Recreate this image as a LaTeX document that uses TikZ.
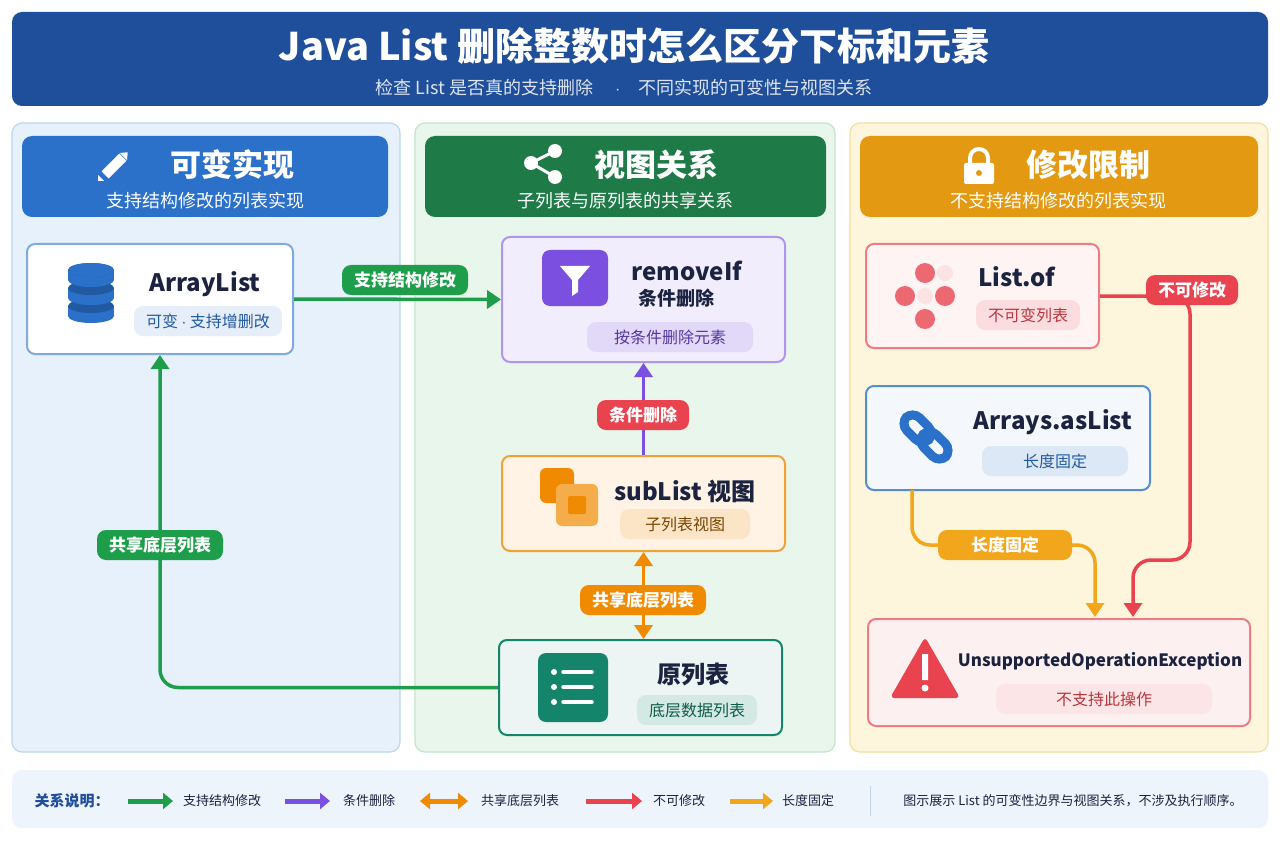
\documentclass[tikz,border=0pt]{standalone}
\usepackage{fontspec}
\setmainfont{Noto Sans CJK SC}
\usetikzlibrary{positioning,calc,arrows.meta,shapes.geometric}
\definecolor{titlebar}{HTML}{1F4E9A}
\definecolor{pbluef}{HTML}{E6F1FC}
\definecolor{pbluel}{HTML}{B9D8F3}
\definecolor{hblue}{HTML}{2B70C9}
\definecolor{pgreenf}{HTML}{E9F6EC}
\definecolor{pgreenl}{HTML}{C3E5CC}
\definecolor{hgreen}{HTML}{1E7A46}
\definecolor{pyelf}{HTML}{FDF5DC}
\definecolor{pyell}{HTML}{F3DFA0}
\definecolor{horange}{HTML}{E39A12}
\definecolor{cgreen}{HTML}{1E9E4A}
\definecolor{cpurple}{HTML}{7B4FE0}
\definecolor{corange}{HTML}{F08A00}
\definecolor{cred}{HTML}{E8434F}
\definecolor{cyel}{HTML}{F2A61B}
\definecolor{cteal}{HTML}{14846A}
\definecolor{ink}{HTML}{1B2340}
\tikzset{
  card/.style={draw=#1, line width=2pt, rounded corners=8pt},
  pill/.style={rounded corners=9pt, inner xsep=12pt, minimum height=30pt, font=\bfseries\fontsize{17}{20}\selectfont},
  tag/.style={pill, minimum height=30pt, font=\fontsize{16}{19}\selectfont},
  conn/.style={line width=3.5pt, rounded corners=18pt, -{Triangle[length=14pt,width=18pt]}},
  legarr/.style={line width=5pt, -{Triangle[length=10pt,width=16pt]}},
  ctitle/.style={font=\bfseries\fontsize{24}{27}\selectfont, text=ink},
}
\begin{document}
\begin{tikzpicture}[x=1pt,y=-1pt]
  \useasboundingbox (0,0) rectangle (1280,853);
  \fill[white] (0,0) rectangle (1280,853);
  % title
  \fill[titlebar, rounded corners=10pt] (12,12) rectangle (1268,106);
  \node[text=white, font=\bfseries\fontsize{38}{44}\selectfont] (title) at (634,46) {Java List 删除整数时怎么区分下标和元素};
  \node[text=white!85!titlebar, font=\fontsize{18}{22}\selectfont] (subtitle) at (624,88) {检查 List 是否真的支持删除 \quad$\cdot$\quad 不同实现的可变性与视图关系};
  % panels
  \filldraw[fill=pbluef, draw=pbluel, line width=1.2pt, rounded corners=10pt] (12,123) rectangle (400,752);
  \filldraw[fill=pgreenf, draw=pgreenl, line width=1.2pt, rounded corners=10pt] (415,123) rectangle (835,752);
  \filldraw[fill=pyelf, draw=pyell, line width=1.2pt, rounded corners=10pt] (850,123) rectangle (1268,752);
  \fill[hblue, rounded corners=10pt] (22,136) rectangle (388,217);
  \fill[hgreen, rounded corners=10pt] (425,136) rectangle (826,217);
  \fill[horange, rounded corners=10pt] (860,136) rectangle (1258,217);
  \node[text=white, font=\bfseries\fontsize{31}{34}\selectfont] (h1) at (232,165) {可变实现};
  \node[text=white, font=\fontsize{18}{22}\selectfont] (s1) at (205,201) {支持结构修改的列表实现};
  \node[text=white, font=\bfseries\fontsize{31}{34}\selectfont] (h2) at (656,165) {视图关系};
  \node[text=white, font=\fontsize{18}{22}\selectfont] (s2) at (625,201) {子列表与原列表的共享关系};
  \node[text=white, font=\bfseries\fontsize{31}{34}\selectfont] (h3) at (1088,165) {修改限制};
  \node[text=white, font=\fontsize{18}{22}\selectfont] (s3) at (1058,201) {不支持结构修改的列表实现};
  % header icons
  \fill[white, rotate around={45:(115,165)}] (101,160) rectangle (126,170) (127,160) -- (133,165) -- (127,170) -- cycle;
  \fill[white] (98,181) -- (104,181) -- (98,175) -- cycle;
  \draw[white, line width=3pt] (531,163) -- (555,151) (531,163) -- (555,177);
  \fill[white] (531,163) circle (7) (555,151) circle (7) (555,177) circle (7);
  \fill[white, rounded corners=2pt] (964,163) rectangle (994,184);
  \draw[white, line width=4pt] (970,164) -- (970,158) arc (180:360:9) -- (988,164);
  \fill[horange] (979,173) circle (3);
  % cards
  \node[card=hblue!60, fill=white, minimum width=266pt, minimum height=110pt] (arr) at (160,299) {};
  \node[card=cpurple!60, fill=cpurple!10, minimum width=283pt, minimum height=125pt] (rmv) at (643.5,299.5) {};
  \node[card=corange!80, fill=corange!10, minimum width=283pt, minimum height=95pt] (sub) at (643.5,503.5) {};
  \node[card=cteal, fill=cteal!8, minimum width=283pt, minimum height=95pt] (orig) at (640.5,687.5) {};
  \node[card=cred!70, fill=cred!6, minimum width=233pt, minimum height=104pt] (lof) at (982.5,296) {};
  \node[card=hblue!80, fill=hblue!5, minimum width=284pt, minimum height=104pt] (asl) at (1008,438) {};
  \node[card=cred!70, fill=cred!8, minimum width=382pt, minimum height=107pt] (uoe) at (1059,672.5) {};
  % card texts
  \node[ctitle] (arrt) at (205,284) {ArrayList};
  \node[tag, fill=hblue!12, text=hblue!80!black] (arrg) at (208,321) {可变 $\cdot$ 支持增删改};
  \node[ctitle] (rmvt) at (687,271) {removeIf};
  \node[font=\bfseries\fontsize{19}{22}\selectfont, text=ink] (rmvs) at (676,298) {条件删除};
  \node[tag, fill=cpurple!22, text=cpurple!70!black, minimum width=166pt] (rmvg) at (670,337) {按条件删除元素};
  \node[ctitle] (subt) at (685,491) {subList 视图};
  \node[tag, fill=corange!22, text=corange!50!black, minimum width=130pt] (subg) at (685,524) {子列表视图};
  \node[ctitle] (origt) at (693,674) {原列表};
  \node[tag, fill=cteal!18, text=cteal!70!black] (origg) at (697,710) {底层数据列表};
  \node[ctitle] (loft) at (1017,277) {List.of};
  \node[tag, fill=cred!18, text=cred!80!black] (lofg) at (1028,315) {不可变列表};
  \node[ctitle] (aslt) at (1053,422) {Arrays.asList};
  \node[tag, fill=hblue!16, text=hblue!80!black, minimum width=146pt] (aslg) at (1055,461) {长度固定};
  \node[font=\bfseries\fontsize{17}{20}\selectfont, text=ink] (uoet) at (1100,661) {UnsupportedOperationException};
  \node[tag, fill=cred!14, text=cred!80!black, minimum width=216pt] (uoeg) at (1104,699) {不支持此操作};
  % card icons
  \foreach \y in {316,298,280} {
    \fill[hblue] (68,\y) rectangle (114,\y-10);
    \fill[hblue] (91,\y) ellipse (23 and 7);
    \fill[hblue!80!black] (91,\y-10) ellipse (23 and 7);
  }
  \fill[hblue] (91,270) ellipse (23 and 7);
  \fill[cpurple, rounded corners=8pt] (542,250) rectangle (608,306);
  \fill[white] (560,266) -- (590,266) -- (578,280) -- (578,292) -- (572,296) -- (572,280) -- cycle;
  \fill[corange, rounded corners=6pt] (540,468) rectangle (574,503);
  \fill[corange!70!white, rounded corners=6pt] (556,484) rectangle (598,526);
  \fill[corange, rounded corners=2pt] (568,496) rectangle (586,514);
  \fill[cteal, rounded corners=8pt] (538,653) rectangle (608,722);
  \foreach \y in {672,687,702} {
    \fill[white] (554,\y) circle (3);
    \draw[white, line width=3.5pt, line cap=round] (563,\y) -- (592,\y);
  }
  \fill[cred!80] (925,273) circle (10) (905,296) circle (10) (945,296) circle (10) (925,319) circle (10);
  \fill[cred!15] (945,273) circle (8) (925,296) circle (8);
  \draw[hblue, line width=9pt, rounded corners=10pt, rotate around={-45:(926,437)}] (898,428) rectangle (930,446);
  \draw[hblue, line width=9pt, rounded corners=10pt, rotate around={-45:(926,437)}] (922,428) rectangle (954,446);
  \fill[cred, rounded corners=4pt] (925,637) -- (960,698) -- (890,698) -- cycle;
  \fill[white] (922,654) rectangle (928,680) (925,688) circle (3.5);
  % connectors
  \coordinate (rd1) at (1190,560);
  \coordinate (rdend) at (1133,617);
  \coordinate (ob0) at (912,490);
  \coordinate (ob1) at (1003,545);
  \coordinate (obend) at (1095,617);
  \draw[conn, cgreen] (arr.east) -- (rmv.west);
  \draw[conn, cpurple] (sub.north) -- (rmv.south);
  \draw[conn, corange, {Triangle[length=14pt,width=18pt]}-{Triangle[length=14pt,width=18pt]}] (sub.south) -- (sub.south |- orig.north);
  \draw[conn, cgreen] (orig.west) -| (arr.south);
  \draw[conn, cred] (lof.east) -| (rd1) -| (rdend);
  \draw[conn, cyel] (ob0) |- (ob1) -| (obend);
  % connector labels
  \node[pill, fill=cgreen, text=white] (lsup) at (405,280) {支持结构修改};
  \node[pill, fill=cred, text=white] (ldel) at (643,415) {条件删除};
  \node[pill, fill=corange, text=white] (lshr) at (643,600) {共享底层列表};
  \node[pill, fill=cgreen, text=white] (lshr2) at (160,545) {共享底层列表};
  \node[pill, fill=cred, text=white] (lnom) at (1192,290) {不可修改};
  \node[pill, fill=cyel, text=white, minimum width=134pt] (lfix) at (1005,545) {长度固定};
  % legend
  \fill[hblue!8, rounded corners=10pt] (12,770) rectangle (1268,828);
  \node[font=\bfseries\fontsize{15}{18}\selectfont, text=titlebar] (legt) at (72,801) {关系说明：};
  \coordinate (la0) at (128,801); \coordinate (la1) at (173,801);
  \coordinate (lb0) at (285,801); \coordinate (lb1) at (330,801);
  \coordinate (lc0) at (420,801); \coordinate (lc1) at (468,801);
  \coordinate (ld0) at (586,801); \coordinate (ld1) at (642,801);
  \coordinate (le0) at (730,801); \coordinate (le1) at (773,801);
  \draw[legarr, cgreen] (la0) -- (la1);
  \draw[legarr, cpurple] (lb0) -- (lb1);
  \draw[legarr, corange, {Triangle[length=10pt,width=16pt]}-{Triangle[length=10pt,width=16pt]}] (lc0) -- (lc1);
  \draw[legarr, cred] (ld0) -- (ld1);
  \draw[legarr, cyel] (le0) -- (le1);
  \node[font=\fontsize{13}{16}\selectfont, text=ink] (lga) at (222,801) {支持结构修改};
  \node[font=\fontsize{13}{16}\selectfont, text=ink] (lgb) at (369,801) {条件删除};
  \node[font=\fontsize{13}{16}\selectfont, text=ink] (lgc) at (520,801) {共享底层列表};
  \node[font=\fontsize{13}{16}\selectfont, text=ink] (lgd) at (679,801) {不可修改};
  \node[font=\fontsize{13}{16}\selectfont, text=ink] (lge) at (808,801) {长度固定};
  \draw[hblue!30, line width=1pt] (870,786) -- (870,816);
  \node[font=\fontsize{13}{16}\selectfont, text=ink] (lgnote) at (1073,801) {图示展示 List 的可变性边界与视图关系，不涉及执行顺序。};
\end{tikzpicture}
\end{document}
